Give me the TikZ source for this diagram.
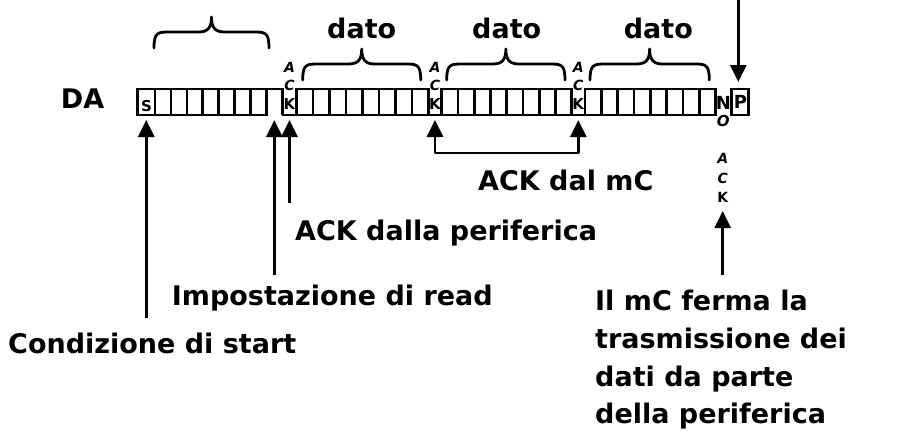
\documentclass[tikz,border=0pt]{standalone}
\usepackage{fontspec}
\setmainfont{DejaVu Sans}
\usetikzlibrary{arrows.meta,calc}
\tikzset{
  lw/.style={line width=2.8pt, line join=round, line cap=round},
  cellbox/.style={line width=2.6pt, draw, minimum height=26pt, inner sep=0pt, outer sep=0pt},
  arr/.style={line width=2.8pt, -{Triangle[width=16pt,length=17pt]}},
  darr/.style={line width=2.8pt, line join=round, {Triangle[width=16pt,length=17pt]}-{Triangle[width=16pt,length=17pt]}},
  bigtxt/.style={font=\fontsize{27}{38}\selectfont\bfseries, inner sep=0pt},
  tiny/.style={font=\fontsize{14}{14}\selectfont\bfseries, inner sep=0pt},
  tinyit/.style={font=\fontsize{14}{14}\selectfont\bfseries\itshape, inner sep=0pt}
}
% curly brace: #1 left x, #2 right x, #3 end y, #4 bar y, #5 tip y
\newcommand{\mybrace}[5]{%
  \draw[lw] (#1,#3) .. controls (#1,#4) and ({#1+4},#4) .. ({#1+16},#4)
    -- ({(#1+#2)/2-13},#4) .. controls ({(#1+#2)/2-3},#4) and ({(#1+#2)/2},{#4-5}) .. ({(#1+#2)/2},#5)
    .. controls ({(#1+#2)/2},{#4-5}) and ({(#1+#2)/2+3},#4) .. ({(#1+#2)/2+13},#4)
    -- ({#2-16},#4) .. controls ({#2-4},#4) and (#2,#4) .. (#2,#3);}
\begin{document}
\begin{tikzpicture}[x=1pt,y=-1pt]
\useasboundingbox (0,0) rectangle (903,431);
% ---- row of bits ----
\node[cellbox, minimum width=17.5pt] (S) at (146.25,102) {};
\node[tiny, font=\fontsize{15}{15}\selectfont\bfseries] (Slab) at (146.5,106) {S};
\foreach \i in {0,...,6}{
  \node[cellbox, minimum width=15.9pt] (a\i) at ({155+15.9*\i+7.95},102) {};
}
% R/W cell (open at the bottom)
\coordinate (RWl) at (266.3,115);
\coordinate (RWr) at (282.3,115);
\draw[line width=2.6pt, line join=miter] (RWl) -- (266.3,89) -- (282.3,89) -- (RWr);
\coordinate (RW) at (274.3,115);
% ACK 1 (open at the top)
\coordinate (K1) at (289.5,115);
\foreach \i in {0,...,7}{
  \node[cellbox, minimum width=16.45pt] (d\i) at ({296.7+16.45*\i+8.225},102) {};
}
\draw[line width=2.6pt] (RWr) -- (d0.south west);
% ACK 2
\coordinate (K2) at (435,115);
\foreach \i in {0,...,7}{
  \node[cellbox, minimum width=16.25pt] (e\i) at ({441.7+16.25*\i+8.125},102) {};
}
\draw[line width=2.6pt] (d7.south east) -- (e0.south west);
% ACK 3
\coordinate (K3) at (578.3,115);
\foreach \i in {0,...,7}{
  \node[cellbox, minimum width=16.34pt] (f\i) at ({585+16.34*\i+8.17},102) {};
}
\draw[line width=2.6pt] (e7.south east) -- (f0.south west);
% NO / P
\node[cellbox, minimum width=16.6pt] (P) at (740,102) {};
\node[font=\fontsize{18}{18}\selectfont\bfseries, inner sep=0pt] (Plab) at (740.5,101.5) {P};
\node[font=\fontsize{18}{18}\selectfont\bfseries, inner sep=0pt] (Nlab) at (723.5,103) {N};
\node[tinyit, font=\fontsize{15}{15}\selectfont\bfseries\itshape] (Olab) at (723.3,121) {O};
% ACK labels at the row
\foreach \n/\x in {1/289.5,2/435,3/578.3}{
  \node[tinyit] (A\n) at (\x,67) {A};
  \node[tinyit] (C\n) at (\x,85) {C};
  \node[tiny, font=\fontsize{15}{15}\selectfont\bfseries] (Kl\n) at (\x,104) {K};
}
% NO ACK below
\node[tinyit] (nA) at (722.7,158) {A};
\node[tinyit] (nC) at (722.7,178) {C};
\node[tiny] (nK) at (722.7,197) {K};
% ---- braces ----
\mybrace{154}{269}{48}{32}{17}
\mybrace{302.7}{420.7}{80}{64}{49}
\mybrace{446.7}{565}{80}{64}{49}
\mybrace{590}{709.3}{80}{64}{49}
% ---- texts ----
\node[bigtxt, anchor=base] (DA) at (82.5,108) {DA};
\node[bigtxt, anchor=base] (dato1) at (361.7,38) {dato};
\node[bigtxt, anchor=base] (dato2) at (506.7,38) {dato};
\node[bigtxt, anchor=base] (dato3) at (658.3,38) {dato};
\node[bigtxt, anchor=base] (lmc) at (565.8,190) {ACK dal mC};
\node[bigtxt, anchor=base west] (lper) at (295,240) {ACK dalla periferica};
\node[bigtxt, anchor=base west] (lread) at (171.7,305) {Impostazione di read};
\node[bigtxt, anchor=base west] (lstart) at (8,353) {Condizione di start};
\node[bigtxt, anchor=base west] (stop1) at (595,310) {Il mC ferma la};
\node[bigtxt, anchor=base west] (stop2) at (595,348) {trasmissione dei};
\node[bigtxt, anchor=base west] (stop3) at (595,386) {dati da parte};
\node[bigtxt, anchor=base west] (stop4) at (595,423) {della periferica};
% ---- arrows ----
\coordinate (startfoot) at (146.25,318);
\coordinate (readfoot) at (274.3,275);
\coordinate (perfoot) at (289.5,203);
\coordinate (stopfoot) at (722.7,275);
\coordinate (stoptip) at (722.7,211);
\coordinate (ptop) at (738.3,0);
\coordinate (mcbar) at (500,153);
\draw[arr] (startfoot) -- ([yshift=-5pt]S.south);
\draw[arr] (readfoot) -- ([yshift=-5pt]RW);
\draw[arr] (perfoot) -- ([yshift=-5pt]K1);
\draw[darr] ([yshift=-5pt]K2) -- (K2 |- mcbar) -- (K3 |- mcbar) -- ([yshift=-5pt]K3);
\draw[arr] (stopfoot) -- (stoptip);
\draw[arr] (ptop) -- (ptop |- 0,82);
\end{tikzpicture}
\end{document}
